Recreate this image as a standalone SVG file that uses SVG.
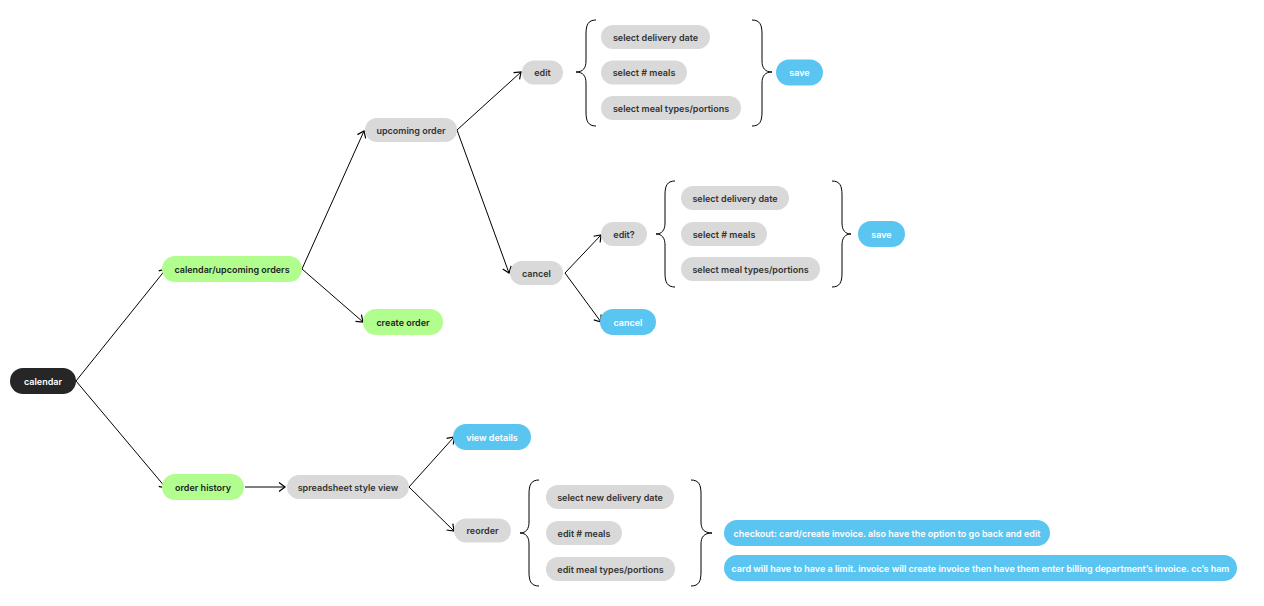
<svg xmlns="http://www.w3.org/2000/svg" width="1264" height="606" viewBox="0 0 1264 606">
<defs>
<marker id="arr" viewBox="-8 -6 10 12" refX="0" refY="0" markerWidth="10" markerHeight="12" markerUnits="userSpaceOnUse" orient="auto">
<path d="M-6,-4.5 L0,0 L-6,4.5" fill="none" stroke="#000" stroke-width="1.2"/>
</marker>
<style>
text{font-family:Inter,"Noto Sans","Liberation Sans",sans-serif;font-size:9px;font-weight:600;text-anchor:middle;dominant-baseline:central}
.gray rect{fill:#d9d9d9}
.gray text{fill:#333333}
.green rect{fill:#b1fe8e}
.green text{fill:#1e1e1e}
.blue rect{fill:#5bc5f2}
.blue text{fill:#ffffff}
.dark rect{fill:#262626}
.dark text{fill:#ffffff}
.conn line{stroke:#000;stroke-width:1;marker-end:url(#arr)}
.brace{fill:none;stroke:#000;stroke-width:1}
</style>
</defs>
<rect width="1264" height="606" fill="#ffffff"/>

<g id="connectors" class="conn">
<line x1="76" y1="381" x2="166" y2="269"/>
<line x1="76" y1="381" x2="166" y2="488"/>
<line x1="302" y1="269" x2="364" y2="131"/>
<line x1="302" y1="269" x2="363" y2="322"/>
<line x1="457" y1="130" x2="521" y2="72"/>
<line x1="457" y1="130" x2="509" y2="273"/>
<line x1="565" y1="273" x2="601" y2="235"/>
<line x1="565" y1="273" x2="601" y2="322"/>
<line x1="245" y1="487" x2="285" y2="487"/>
<line x1="409" y1="487" x2="454" y2="437"/>
<line x1="409" y1="487" x2="454" y2="531"/>
</g>

<g id="braces">
<path class="brace" d="M596,20 C588,20 586,25 586,34 L586,61 C586,68 583,72 576,72 C583,72 586,76 586,83 L586,112 C586,121 588,126 596,126"/>
<path class="brace" d="M752,20 C760,20 762,25 762,34 L762,61 C762,68 765,72 772,72 C765,72 762,76 762,83 L762,112 C762,121 760,126 752,126"/>
<path class="brace" d="M675,181 C667,181 665,186 665,195 L665,223 C665,230 662,234 656,234 C662,234 665,238 665,245 L665,273 C665,282 667,287 675,287"/>
<path class="brace" d="M832,181 C840,181 842,186 842,195 L842,223 C842,230 845,234 851,234 C845,234 842,238 842,245 L842,273 C842,282 840,287 832,287"/>
<path class="brace" d="M539,480 C531,480 529,485 529,494 L529,522 C529,529 526,533 520,533 C526,533 529,537 529,544 L529,572 C529,581 531,586 539,586"/>
<path class="brace" d="M691,480 C699,480 701,485 701,494 L701,522 C701,529 704,533 712,533 C704,533 701,537 701,544 L701,572 C701,581 699,586 691,586"/>
</g>

<g id="n-calendar" class="dark"><rect x="10" y="368" width="66" height="26" rx="13"/><text x="43" y="381">calendar</text></g>
<g id="n-calendar-upcoming" class="green"><rect x="162" y="256" width="140" height="26" rx="13"/><text x="232" y="269">calendar/upcoming orders</text></g>
<g id="n-create-order" class="green"><rect x="363" y="309" width="80" height="26" rx="13"/><text x="403" y="322">create order</text></g>
<g id="n-upcoming-order" class="gray"><rect x="365" y="118" width="92" height="24" rx="12"/><text x="411" y="130">upcoming order</text></g>
<g id="n-edit" class="gray"><rect x="522" y="60.5" width="41" height="24" rx="12"/><text x="542.5" y="72.5">edit</text></g>
<g id="n-sel-date-1" class="gray"><rect x="601" y="25" width="109" height="24" rx="12"/><text x="655.5" y="37">select delivery date</text></g>
<g id="n-sel-meals-1" class="gray"><rect x="601" y="60.5" width="86" height="24" rx="12"/><text x="644" y="72.5">select # meals</text></g>
<g id="n-sel-types-1" class="gray"><rect x="601" y="96" width="140" height="24" rx="12"/><text x="671" y="108">select meal types/portions</text></g>
<g id="n-save-1" class="blue"><rect x="776" y="59.5" width="47" height="26" rx="13"/><text x="799.5" y="72.5">save</text></g>
<g id="n-cancel" class="gray"><rect x="510" y="261" width="53" height="24" rx="12"/><text x="536.5" y="273">cancel</text></g>
<g id="n-edit-q" class="gray"><rect x="601" y="222" width="46" height="24" rx="12"/><text x="624" y="234">edit?</text></g>
<g id="n-sel-date-2" class="gray"><rect x="681" y="186" width="108" height="24" rx="12"/><text x="735" y="198">select delivery date</text></g>
<g id="n-sel-meals-2" class="gray"><rect x="681" y="222" width="86" height="24" rx="12"/><text x="724" y="234">select # meals</text></g>
<g id="n-sel-types-2" class="gray"><rect x="681" y="257" width="139" height="24" rx="12"/><text x="750.5" y="269">select meal types/portions</text></g>
<g id="n-save-2" class="blue"><rect x="858" y="221" width="47" height="26" rx="13"/><text x="881.5" y="234">save</text></g>
<g id="n-cancel-blue" class="blue"><rect x="600" y="309" width="56" height="26" rx="13"/><text x="628" y="322">cancel</text></g>
<g id="n-order-history" class="green"><rect x="162" y="474" width="82" height="26" rx="13"/><text x="203" y="487">order history</text></g>
<g id="n-spreadsheet" class="gray"><rect x="287" y="475" width="122" height="24" rx="12"/><text x="348" y="487">spreadsheet style view</text></g>
<g id="n-view-details" class="blue"><rect x="453" y="424" width="78" height="26" rx="13"/><text x="492" y="437">view details</text></g>
<g id="n-reorder" class="gray"><rect x="454" y="518.5" width="57" height="24" rx="12"/><text x="482.5" y="530.5">reorder</text></g>
<g id="n-new-date" class="gray"><rect x="546" y="485" width="128" height="24" rx="12"/><text x="610" y="497">select new delivery date</text></g>
<g id="n-edit-meals" class="gray"><rect x="546" y="521" width="76" height="24" rx="12"/><text x="584" y="533">edit # meals</text></g>
<g id="n-edit-types" class="gray"><rect x="546" y="557" width="129" height="24" rx="12"/><text x="610.5" y="569">edit meal types/portions</text></g>
<g id="n-checkout" class="blue"><rect x="724" y="520" width="326" height="26" rx="13"/><text x="887" y="533">checkout: card/create invoice. also have the option to go back and edit</text></g>
<g id="n-card-limit" class="blue"><rect x="724" y="555" width="513" height="26" rx="13"/><text x="980.5" y="568">card will have to have a limit. invoice will create invoice then have them enter billing department’s invoice. cc’s ham</text></g>
</svg>
